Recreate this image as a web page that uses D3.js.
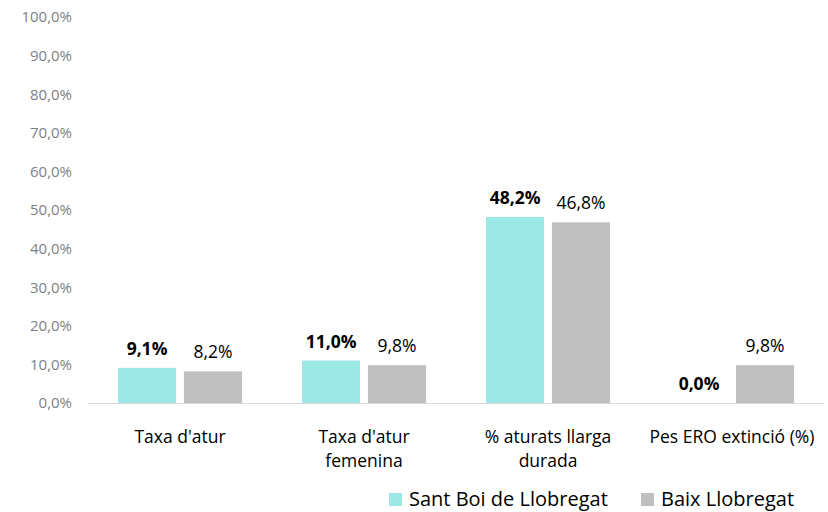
<!DOCTYPE html>
<html>
<head>
<meta charset="utf-8">
<script src="https://cdn.jsdelivr.net/npm/d3@7"></script>
<style>
  body{margin:0;background:#fff;}
  text{font-family:"Open Sans","Noto Sans",sans-serif;}
</style>
</head>
<body>
<script>
const categories=[["Taxa d'atur"],["Taxa d'atur","femenina"],["% aturats llarga","durada"],["Pes ERO extinció (%)"]];
const seriesNames=["Sant Boi de Llobregat","Baix Llobregat"];
const santBoi=[9.1,11.0,48.2,0.0];
const baixLlobregat=[8.2,9.8,46.8,9.8];
const yTicks=[0,10,20,30,40,50,60,70,80,90,100];
const colors=["#9BE8E4","#BFBFBF"];

const w=828,h=512;
const margin={top:17,bottom:109,left:88,right:4};

const svg=d3.select("body").append("svg").attr("width",w).attr("height",h);

const fmt=v=>v.toFixed(1).replace(".",",")+"%";

const xScale=d3.scaleBand().domain(d3.range(categories.length)).range([margin.left,w-margin.right]);
const inner=d3.scaleBand().domain([0,1]).range([30,xScale.bandwidth()-30]).paddingInner(0.12);
const yScale=d3.scaleLinear().domain([0,100]).range([h-margin.bottom,margin.top]);

// y axis labels
const yAxis=d3.axisLeft(yScale).tickValues(yTicks).tickFormat(fmt).tickSize(0).tickPadding(0);
const gy=svg.append("g").attr("transform",`translate(72,0)`).call(yAxis);
gy.select(".domain").remove();
gy.selectAll("text").attr("fill","#7F7F7F").style("font-size","15px")
  .style("font-family","'Open Sans','Noto Sans',sans-serif");

const rows=categories.map((c,i)=>({i,vals:[santBoi[i],baixLlobregat[i]]}));

const groups=svg.selectAll("g.cat").data(rows).enter().append("g")
  .attr("class","cat").attr("transform",d=>`translate(${xScale(d.i)},0)`);

groups.selectAll("rect").data(d=>d.vals.map((v,s)=>({v,s}))).enter().append("rect")
  .attr("x",d=>inner(d.s))
  .attr("width",inner.bandwidth())
  .attr("y",d=>yScale(d.v))
  .attr("height",d=>yScale(0)-yScale(d.v))
  .attr("fill",d=>colors[d.s]);

groups.selectAll("text.val").data(d=>d.vals.map((v,s)=>({v,s}))).enter().append("text")
  .attr("class","val")
  .attr("x",d=>inner(d.s)+inner.bandwidth()/2)
  .attr("y",d=>yScale(d.v)-13)
  .attr("text-anchor","middle")
  .attr("fill","#000")
  .style("font-size","17.5px")
  .style("font-weight",d=>d.s===0?"bold":"normal")
  .text(d=>fmt(d.v));

// baseline
svg.append("line")
  .attr("x1",margin.left).attr("x2",w-margin.right)
  .attr("y1",yScale(0)+0.5).attr("y2",yScale(0)+0.5)
  .attr("stroke","#D9D9D9").attr("stroke-width",1);

// category labels
const catLabels=svg.selectAll("text.cat").data(categories).enter().append("text")
  .attr("class","cat")
  .attr("x",(d,i)=>xScale(i)+xScale.bandwidth()/2)
  .attr("y",yScale(0)+40)
  .attr("text-anchor","middle")
  .attr("fill","#000")
  .style("font-size","17.5px");
catLabels.selectAll("tspan").data(d=>d).enter().append("tspan")
  .attr("x",function(){return this.parentNode.getAttribute("x");})
  .attr("dy",(d,i)=>i===0?0:24)
  .text(d=>d);

// legend
const legend=svg.append("g").attr("transform","translate(389,0)");
const legendX=[0,252];
seriesNames.forEach((name,i)=>{
  legend.append("rect").attr("x",legendX[i]).attr("y",493).attr("width",13).attr("height",13).attr("fill",colors[i]);
  legend.append("text").attr("x",legendX[i]+20).attr("y",506)
    .attr("fill","#000").style("font-size","20px").text(name);
});
</script>
</body>
</html>
